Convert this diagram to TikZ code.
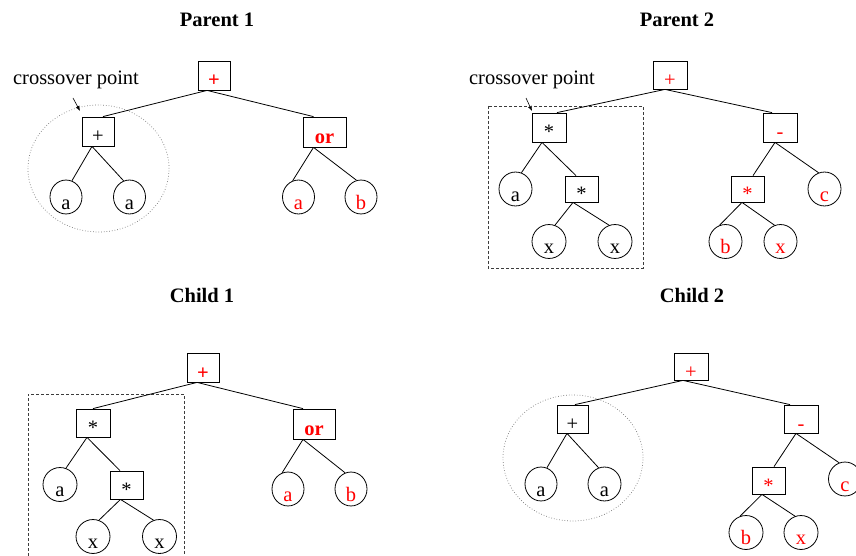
\documentclass[tikz,border=0pt]{standalone}
\usepackage{fontspec}
\setmainfont{Liberation Serif}
\usetikzlibrary{arrows.meta,shapes.geometric}
\definecolor{tred}{RGB}{255,0,0}
\definecolor{dotgray}{RGB}{120,120,120}
\definecolor{dashgray}{RGB}{60,60,60}
\begin{document}
\begin{tikzpicture}[x=1pt,y=-1pt,
  font=\fontsize{20.5}{24}\selectfont,
  box/.style={draw, rectangle, line width=0.8pt, inner sep=0pt, minimum width=33pt, minimum height=29pt, text height=23pt, text depth=0pt},
  leaf/.style={draw, ellipse, line width=0.8pt, inner sep=0pt, minimum width=33pt, minimum height=28pt, text height=24pt, text depth=0pt},
  rt/.style={text=tred},
  link/.style={line width=0.8pt},
  title/.style={font=\fontsize{20.5}{24}\selectfont\bfseries, anchor=base, inner sep=0pt},
  lbl/.style={anchor=base, inner sep=0pt},
  dotring/.style={draw=dotgray, dotted, line width=0.7pt},
  dashframe/.style={draw=dashgray, dash pattern=on 3pt off 2pt, line width=0.8pt},
  pointer/.style={line width=0.6pt, -{Latex[length=5pt,width=4pt]}}
]
\useasboundingbox (0,0) rectangle (856,556);

% ---------------- Parent 1 ----------------
\node[title] (t1) at (217,27) {Parent 1};
\node[lbl] (cp1) at (76,85) {crossover point};
\coordinate (cp1s) at (73,98);
\coordinate (cp1e) at (80,111);
\draw[pointer] (cp1s) -- (cp1e);
\draw[dotring] (98.5,168.5) ellipse [x radius=70.5pt, y radius=63.5pt];

\node[box, rt, minimum width=32pt] (p1r) at (214,75.5) {\textbf{+}};
\node[box, minimum width=32pt] (p1l) at (98,131.5) {+};
\node[box, rt, minimum width=43pt, minimum height=30pt] (p1o) at (324.5,132) {\textbf{or}};
\node[leaf, minimum width=32pt, minimum height=29pt] (p1a1) at (66,197) {a};
\node[leaf, minimum width=32pt, minimum height=29pt] (p1a2) at (129.5,197) {a};
\node[leaf, rt, minimum width=32pt, minimum height=29pt] (p1a3) at (298.5,197) {a};
\node[leaf, rt, minimum width=32pt, minimum height=29pt] (p1b) at (361,197) {b};

\draw[link] ([xshift=-7pt]p1r.south) -- ([xshift=5pt]p1l.north);
\draw[link] ([xshift=-7pt]p1r.south) -- ([xshift=-11pt]p1o.north);
\draw[link] ([xshift=-6pt]p1l.south) -- (p1a1.70);
\draw[link] ([xshift=-6pt]p1l.south) -- (p1a2.110);
\draw[link] ([xshift=-11pt]p1o.south) -- (p1a3.110);
\draw[link] ([xshift=-11pt]p1o.south) -- (p1b.105);

% ---------------- Parent 2 ----------------
\node[title] (t2) at (677,27) {Parent 2};
\node[lbl] (cp2) at (532,85) {crossover point};
\coordinate (cp2s) at (526,98);
\coordinate (cp2e) at (532,111);
\draw[pointer] (cp2s) -- (cp2e);
\draw[dashframe] (488,106) rectangle (643,268);

\node[box, rt, minimum width=34pt, minimum height=28pt] (p2r) at (670,75) {+};
\node[box, minimum width=34pt] (p2l) at (549,127.5) {*};
\node[box, rt, minimum width=34pt] (p2m) at (780,127.5) {-};
\node[leaf, minimum height=26pt] (p2a) at (515.5,189) {a};
\node[box, minimum height=26pt] (p2s) at (581.5,189) {*};
\node[leaf, minimum width=34pt, minimum height=27pt] (p2x1) at (549,241.5) {x};
\node[leaf, minimum width=34pt, minimum height=27pt] (p2x2) at (615,241.5) {x};
\node[box, rt, minimum height=26pt] (p2rs) at (747.5,189) {*};
\node[leaf, rt, minimum height=26pt] (p2c) at (824.5,189) {c};
\node[leaf, rt, minimum height=27pt] (p2b) at (725.5,241.5) {b};
\node[leaf, rt, minimum height=27pt] (p2x3) at (780.5,241.5) {x};

\draw[link] ([xshift=-5pt]p2r.south) -- ([xshift=8pt]p2l.north);
\draw[link] ([xshift=-5pt]p2r.south) -- ([xshift=-8pt]p2m.north);
\draw[link] ([xshift=-7pt]p2l.south) -- (p2a.70);
\draw[link] ([xshift=-7pt]p2l.south) -- ([xshift=-5.5pt]p2s.north);
\draw[link] ([xshift=-8.5pt]p2s.south) -- (p2x1.70);
\draw[link] ([xshift=-8.5pt]p2s.south) -- (p2x2.110);
\draw[link] ([xshift=-5pt]p2m.south) -- ([xshift=5.5pt]p2rs.north);
\draw[link] ([xshift=-5pt]p2m.south) -- (p2c.110);
\draw[link] ([xshift=-5.5pt]p2rs.south) -- (p2b.110);
\draw[link] ([xshift=-5.5pt]p2rs.south) -- (p2x3.110);

% ---------------- Child 1 ----------------
\node[title] (t3) at (202,302) {Child 1};
\coordinate (f1a) at (28,556);
\coordinate (f1b) at (28,394);
\coordinate (f1c) at (184,394);
\coordinate (f1d) at (184,556);
\draw[dashframe] (f1a) -- (f1b) -- (f1c) -- (f1d);

\node[box, rt, minimum width=32pt] (c1r) at (203,367.5) {\textbf{+}};
\node[box, minimum width=34pt, minimum height=28pt] (c1l) at (93,423) {*};
\node[box, rt, minimum width=42pt, minimum height=30pt] (c1o) at (314,424) {\textbf{or}};
\node[leaf, minimum width=34pt, minimum height=27pt] (c1a) at (60,484.5) {a};
\node[box, minimum height=28pt] (c1s) at (126.5,485) {*};
\node[leaf, minimum width=34pt, minimum height=27pt] (c1x1) at (93,536.5) {x};
\node[leaf, minimum width=34pt, minimum height=27pt] (c1x2) at (159.5,536.5) {x};
\node[leaf, rt, minimum width=32pt] (c1a2) at (288,489) {a};
\node[leaf, rt, minimum width=32pt] (c1b) at (351,489) {b};

\draw[link] ([xshift=-6pt]c1r.south) -- (c1l.north);
\draw[link] ([xshift=-6pt]c1r.south) -- ([xshift=-11pt]c1o.north);
\draw[link] ([xshift=-6pt]c1l.south) -- (c1a.70);
\draw[link] ([xshift=-6pt]c1l.south) -- ([xshift=-6.5pt]c1s.north);
\draw[link] ([xshift=-6pt]c1s.south) -- (c1x1.70);
\draw[link] ([xshift=-6pt]c1s.south) -- (c1x2.110);
\draw[link] ([xshift=-11pt]c1o.south) -- (c1a2.110);
\draw[link] ([xshift=-11pt]c1o.south) -- (c1b.110);

% ---------------- Child 2 ----------------
\node[title] (t4) at (692,302) {Child 2};
\draw[dotring] (573,458) ellipse [x radius=70pt, y radius=63pt];

\node[box, rt, minimum width=34pt, minimum height=27pt] (c2r) at (691,366.5) {+};
\node[box, minimum width=31pt, minimum height=28pt] (c2l) at (572.5,419) {+};
\node[box, rt, minimum width=34pt, minimum height=28pt] (c2m) at (801,419) {-};
\node[leaf, minimum width=32pt] (c2a1) at (541,484) {a};
\node[leaf, minimum width=33pt] (c2a2) at (604.5,484) {a};
\node[box, rt, minimum height=27pt] (c2rs) at (768.5,480.5) {*};
\node[leaf, rt] (c2c) at (845,479) {c};
\node[leaf, rt, minimum width=34pt, minimum height=27pt] (c2b) at (746,532.5) {b};
\node[leaf, rt, minimum width=34pt, minimum height=27pt] (c2x) at (801,532.5) {x};

\draw[link] ([xshift=-8pt]c2r.south) -- ([xshift=2.5pt]c2l.north);
\draw[link] ([xshift=-8pt]c2r.south) -- ([xshift=-11pt]c2m.north);
\draw[link] ([xshift=-5.5pt]c2l.south) -- (c2a1.70);
\draw[link] ([xshift=-5.5pt]c2l.south) -- (c2a2.110);
\draw[link] ([xshift=-5pt]c2m.south) -- ([xshift=5.5pt]c2rs.north);
\draw[link] ([xshift=-5pt]c2m.south) -- (c2c.110);
\draw[link] ([xshift=-6.5pt]c2rs.south) -- (c2b.110);
\draw[link] ([xshift=-6.5pt]c2rs.south) -- (c2x.110);
\end{tikzpicture}
\end{document}
